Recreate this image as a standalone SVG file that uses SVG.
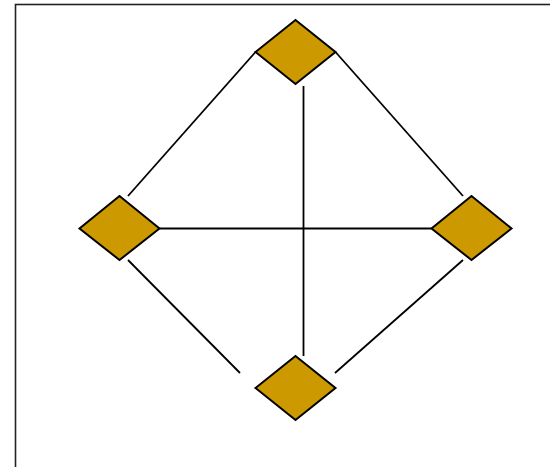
<svg xmlns="http://www.w3.org/2000/svg" width="550" height="467" viewBox="0 0 550 467">
<style>
.node{fill:#CC9900;stroke:#000;stroke-width:2;stroke-linejoin:miter}
.edge{stroke:#000;stroke-width:1.8;fill:none}
</style>
<rect x="0" y="0" width="550" height="467" fill="#fff"/>
<rect x="15.5" y="4.5" width="560" height="480" fill="none" stroke="#222" stroke-width="1.6"/>
<g id="connectors">
<line class="edge" x1="128" y1="196" x2="255.5" y2="52"/>
<line class="edge" x1="335.5" y1="52" x2="463" y2="196"/>
<line class="edge" x1="159.5" y1="228.5" x2="431.5" y2="228.5"/>
<line class="edge" x1="303.5" y1="86" x2="303.5" y2="356"/>
<line class="edge" x1="128" y1="260" x2="240" y2="373"/>
<line class="edge" x1="463" y1="260" x2="335" y2="373"/>
</g>
<g id="node-top"><polygon class="node" points="295.5,20 335.5,52 295.5,84 255.5,52"/></g>
<g id="node-left"><polygon class="node" points="119.5,196 159.5,228.5 119.5,260 79.5,228.5"/></g>
<g id="node-right"><polygon class="node" points="471.5,196 511.5,228.5 471.5,260 431.5,228.5"/></g>
<g id="node-bottom"><polygon class="node" points="295.5,356 335.5,388 295.5,420 255.5,388"/></g>
</svg>
